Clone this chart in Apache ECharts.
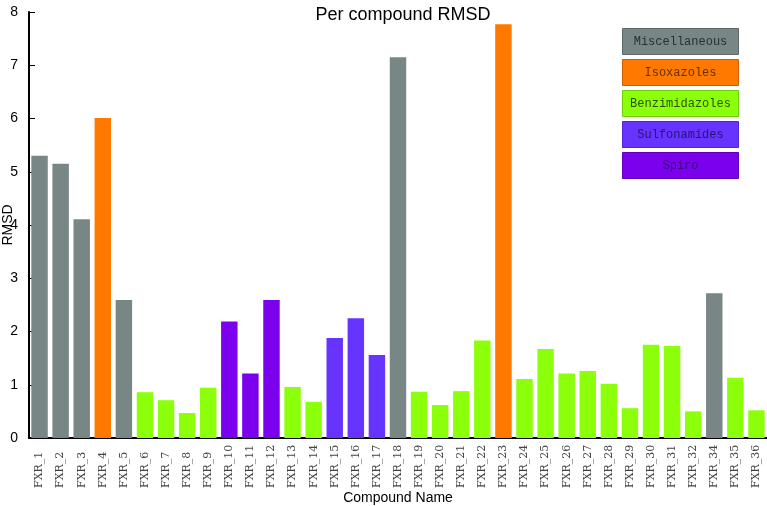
<!DOCTYPE html>
<html><head><meta charset="utf-8">
<script src="https://cdn.jsdelivr.net/npm/echarts@6/dist/echarts.min.js"></script>
<style>html,body{margin:0;padding:0;background:#fff}#c{width:767px;height:506px}</style>
</head><body><div id="c"></div>
<script>
var categories = ['FXR_1','FXR_2','FXR_3','FXR_4','FXR_5','FXR_6','FXR_7','FXR_8','FXR_9','FXR_10','FXR_11','FXR_12','FXR_13','FXR_14','FXR_15','FXR_16','FXR_17','FXR_18','FXR_19','FXR_20','FXR_21','FXR_22','FXR_23','FXR_24','FXR_25','FXR_26','FXR_27','FXR_28','FXR_29','FXR_30','FXR_31','FXR_32','FXR_34','FXR_35','FXR_36'];
var rmsd = [5.30,5.15,4.11,6.01,2.59,0.86,0.71,0.47,0.945,2.19,1.21,2.59,0.96,0.68,1.88,2.25,1.56,7.15,0.87,0.62,0.88,1.83,7.77,1.11,1.67,1.21,1.26,1.02,0.56,1.75,1.73,0.50,2.72,1.13,0.52];
var groups = ['Miscellaneous','Miscellaneous','Miscellaneous','Isoxazoles','Miscellaneous','Benzimidazoles','Benzimidazoles','Benzimidazoles','Benzimidazoles','Spiro','Spiro','Spiro','Benzimidazoles','Benzimidazoles','Sulfonamides','Sulfonamides','Sulfonamides','Miscellaneous','Benzimidazoles','Benzimidazoles','Benzimidazoles','Benzimidazoles','Isoxazoles','Benzimidazoles','Benzimidazoles','Benzimidazoles','Benzimidazoles','Benzimidazoles','Benzimidazoles','Benzimidazoles','Benzimidazoles','Benzimidazoles','Miscellaneous','Benzimidazoles','Benzimidazoles'];
var legendNames = ['Miscellaneous','Isoxazoles','Benzimidazoles','Sulfonamides','Spiro'];
var yTicks = [0,1,2,3,4,5,6,7,8];

var fill = {Miscellaneous:'#788686', Isoxazoles:'#ff7800', Benzimidazoles:'#8cff0a', Sulfonamides:'#6633ff', Spiro:'#7a00ee'};
var edge = {Miscellaneous:'#5e6a6a', Isoxazoles:'#cc6000', Benzimidazoles:'#70cc08', Sulfonamides:'#5028cc', Spiro:'#6000bb'};
var ink = {Miscellaneous:'#2a3030', Isoxazoles:'#662f00', Benzimidazoles:'#2c5000', Sulfonamides:'#2a1470', Spiro:'#3e0080'};

var chart = echarts.init(document.getElementById('c'));
var graphics = legendNames.map(function(n, i){
  return {
    type:'group', left:622, top:28 + i*31,
    children:[
      {type:'rect', shape:{x:0,y:0,width:116,height:26}, style:{fill:fill[n], stroke:edge[n], lineWidth:1}},
      {type:'text', x:58, y:13, style:{text:n, fill:ink[n], font:'12px "Liberation Mono", monospace', align:'center', verticalAlign:'middle'}}
    ]
  };
});
chart.setOption({
  animation:false,
  title:{text:'Per compound RMSD', left:398, top:1, textAlign:'center', textStyle:{fontFamily:'Liberation Sans', fontSize:18, fontWeight:'normal', color:'#000'}},
  grid:{left:29, right:0, top:12, bottom:68, containLabel:false, outerBoundsMode:'none'},
  xAxis:{type:'category', data:categories, name:'Compound Name', nameLocation:'middle', nameGap:53, nameMoveOverlap:false,
    nameTextStyle:{fontFamily:'Liberation Sans', fontSize:14, color:'#000'},
    axisLine:{lineStyle:{color:'#000', width:2}}, axisTick:{show:false},
    axisLabel:{rotate:90, align:'left', fontFamily:'DejaVu Serif', fontSize:11, color:'#444', margin:50, interval:0}},
  yAxis:{type:'value', min:0, max:8, interval:1, name:'RMSD', nameLocation:'middle', nameGap:14, nameMoveOverlap:false,
    nameTextStyle:{fontFamily:'Liberation Sans', fontSize:14, color:'#000'},
    axisLine:{show:true, lineStyle:{color:'#000', width:2}},
    axisTick:{show:true, inside:true, length:6, lineStyle:{color:'#000'}},
    splitLine:{show:false},
    axisLabel:{fontFamily:'Liberation Sans', fontSize:14, color:'#000', margin:11,
      formatter:function(v){return yTicks.indexOf(v)>=0? String(v):'';}}},
  series:[{type:'bar', barCategoryGap:'22%',
    data:rmsd.map(function(v,i){return {value:v, itemStyle:{color:fill[groups[i]]}};})}],
  graphic:graphics
});
</script></body></html>
